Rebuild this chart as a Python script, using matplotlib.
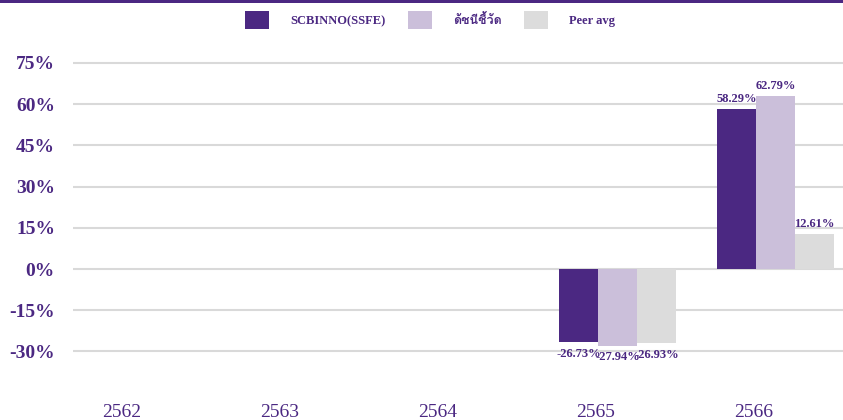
import matplotlib.pyplot as plt
import numpy as np
from matplotlib.patches import Patch, Rectangle
from matplotlib import font_manager
from matplotlib.ft2font import FT2Font

years = ["2562", "2563", "2564", "2565", "2566"]
series_names = ["SCBINNO(SSFE)", "ดัชนีชี้วัด", "Peer avg"]
fund = [np.nan, np.nan, np.nan, -26.73, 58.29]
index_bm = [np.nan, np.nan, np.nan, -27.94, 62.79]
peer = [np.nan, np.nan, np.nan, -26.93, 12.61]
yticks = [-30, -15, 0, 15, 30, 45, 60, 75]

purple = "#4B2882"
colors = ["#4B2882", "#CBBFDA", "#DCDCDC"]


def find_thai_font():
  # look for any installed font that has Thai glyphs
  for f in font_manager.fontManager.ttflist:
    try:
      ft = FT2Font(f.fname)
      if all(ft.get_char_index(ord(ch)) for ch in "ดัชนีชี้วัด"):
        return f.name
    except Exception:
      pass
  return None


thai = find_thai_font()
fams = ["Liberation Serif"] + ([thai] if thai else []) + ["DejaVu Sans"]
plt.rcParams['font.family'] = fams

fig = plt.figure(figsize=(8.43, 4.2), dpi=100)
ax = fig.add_axes([73 / 843, 1 - 385 / 420, 1 - 73 / 843, 340 / 420])

x = np.arange(len(years))
w = 0.247
offs = [-0.11, 0.137, 0.384]
data = [fund, index_bm, peer]
for i, vals in enumerate(data):
  bars = ax.bar(x + offs[i], vals, width=w, color=colors[i], zorder=3)
  for xx, v in zip(x + offs[i], vals):
    if np.isnan(v):
      continue
    if v >= 0:
      ax.text(xx, v + 1.5, f"{v:.2f}%", ha='center', va='bottom', color=purple,
              fontsize=9, fontweight='bold', zorder=4)
    else:
      ax.text(xx, v - 2.0, f"{v:.2f}%", ha='center', va='top', color=purple,
              fontsize=9, fontweight='bold', zorder=4)

ax.set_xlim(-0.31, 4.563)
ax.set_ylim(-42.2, 81.5)
ax.set_yticks(yticks)
ax.set_yticklabels([f"{t}%" for t in yticks], fontsize=14, fontweight='bold', color=purple)
ax.set_xticks(x)
ax.set_xticklabels(years, fontsize=14, color=purple)
ax.tick_params(axis='y', length=0, pad=13)
ax.tick_params(axis='x', length=0, pad=14)
ax.grid(axis='y', color='#D9D9D9', linewidth=1.5, zorder=0)
for s in ax.spines.values():
  s.set_visible(False)

handles = [Patch(facecolor=c, edgecolor='none') for c in colors]
leg = fig.legend(handles, series_names, loc='center', bbox_to_anchor=(430 / 843, 1 - 20 / 420),
                 ncol=3, frameon=False, handlelength=1.9, handleheight=1.9,
                 handletextpad=1.7, columnspacing=1.8,
                 prop={'size': 9, 'weight': 'bold'})
for t in leg.get_texts():
  t.set_color(purple)

fig.add_artist(Rectangle((0, 1 - 3 / 420), 1, 3 / 420, transform=fig.transFigure,
                         color=purple, lw=0))

fig.savefig("out.png", dpi=100)
